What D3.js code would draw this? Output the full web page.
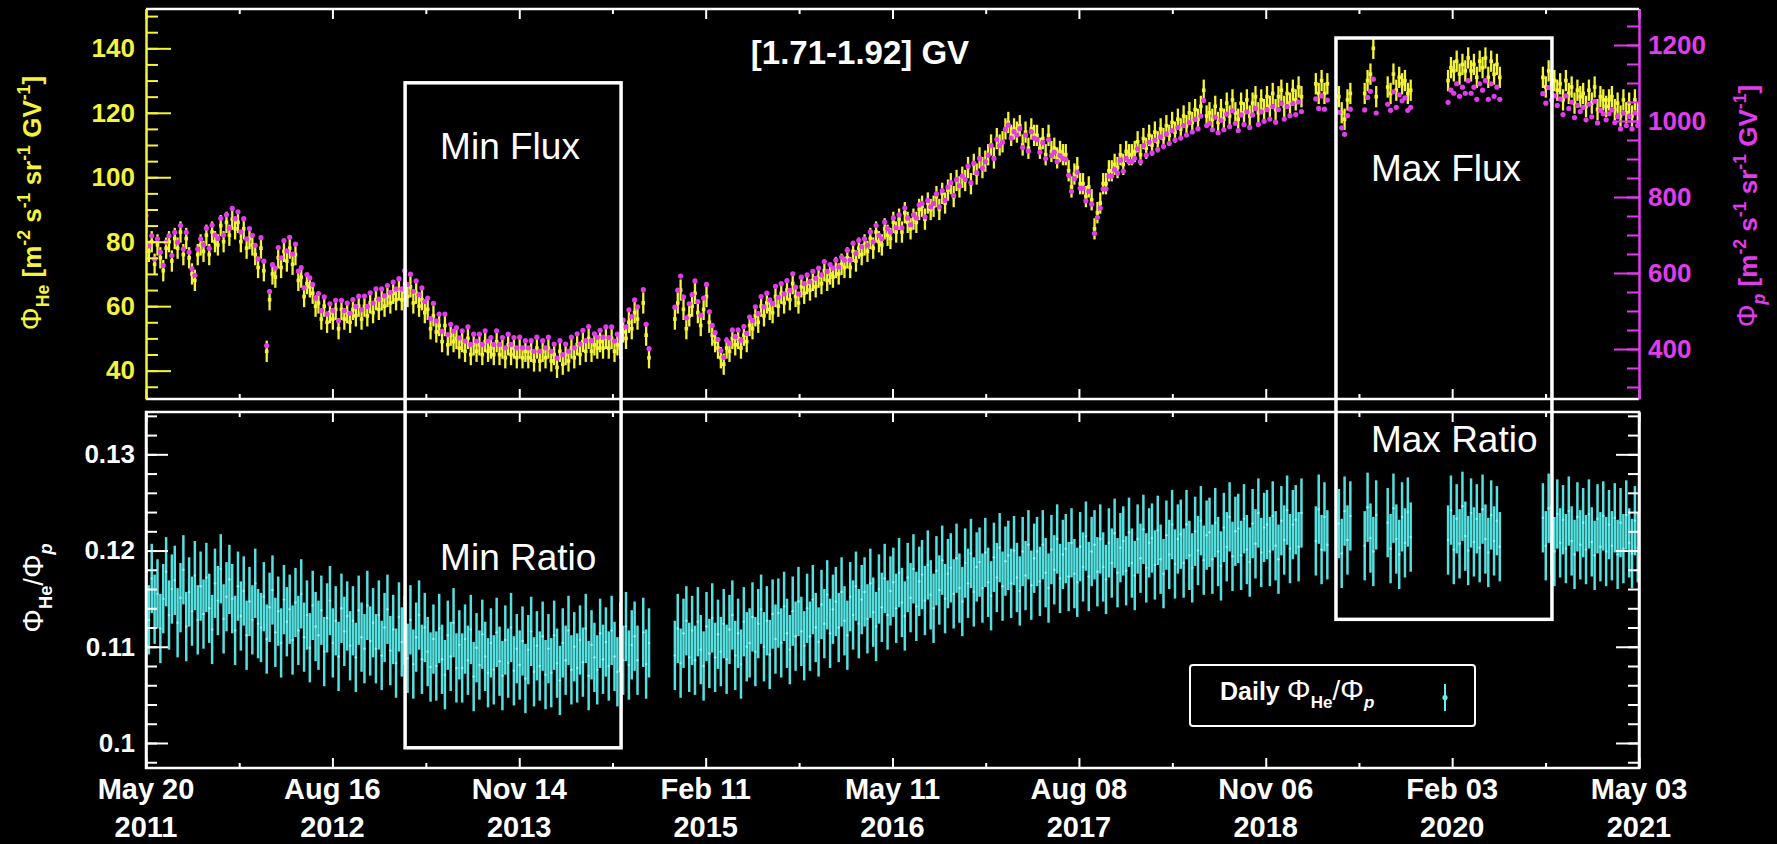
<!DOCTYPE html>
<html><head><meta charset="utf-8">
<script src="https://cdn.jsdelivr.net/npm/d3@7"></script>
<style>
html,body{margin:0;padding:0;background:#000;}
svg{display:block;}
text{font-family:"Liberation Sans",Arial,Helvetica,sans-serif;}
</style></head><body>
<svg id="chart" width="1777" height="844"></svg>
<script>
// ---------------- DATA ----------------
const startDate = "2011-05-20";
const stepDays = 7;           // one sample per week
// Helium flux [m^-2 s^-1 sr^-1 GV^-1], left axis
const heFlux = [
86,77,80,73,79,75,71,78,80,74,
81,78,83,76,81,75,70,68,76,79,
77,82,76,83,80,79,85,80,86,82,
87,84,86,80,84,78,81,79,76,72,
78,71,46,62,70,69,75,72,77,74,
78,73,76,68,69,63,67,66,64,60,
61,56,60,55,58,56,59,53,59,56,
58,55,59,57,60,56,60,57,61,58,
62,59,62,60,63,61,64,62,65,62,
67,63,66,61,64,60,62,58,59,53,
57,52,54,49,54,48,51,49,50,47,
49,46,50,45,48,46,48,45,49,46,
47,45,49,45,47,44,48,45,47,44,
47,44,46,44,46,43,47,43,46,44,
47,43,45,41,46,42,45,43,47,44,
48,45,49,46,50,46,48,47,49,47,
50,47,50,46,48,47,52,50,55,53,
58,56,null,61,51,44,null,null,null,null,
null,null,null,null,56,61,65,59,53,57,
60,64,58,54,59,63,55,51,49,47,
44,42,47,46,50,48,50,47,51,49,
54,53,57,55,60,57,61,59,58,63,
60,64,61,65,62,67,63,61,66,64,
67,65,68,66,69,67,71,68,70,69,
72,70,73,72,75,72,77,74,78,76,
79,77,81,78,83,80,79,84,82,81,
86,83,87,83,89,86,84,87,86,90,
91,87,92,90,91,94,90,95,92,96,
98,94,99,97,100,99,103,98,104,101,
106,103,105,107,110,106,112,110,111,115,
117,113,115,114,116,110,114,109,115,113,
113,109,112,107,113,108,109,106,108,107,
107,102,97,101,103,98,98,94,97,93,
84,89,92,98,98,102,102,104,103,107,
104,108,107,107,108,111,107,112,109,113,
110,114,111,115,112,116,113,117,114,118,
115,119,116,120,117,121,118,122,127,119,
120,118,122,117,121,118,123,119,124,120,
118,123,120,124,119,123,125,120,124,121,
125,122,126,121,125,127,122,126,123,127,
124,128,125,null,null,null,null,129,126,130,
126,129,null,null,null,125,120,118,124,126,
null,null,null,null,126,130,132,140,125,null,
null,null,128,126,132,127,131,129,130,126,
127,null,null,null,null,null,null,null,null,null,
null,null,null,130,134,133,136,132,135,133,
137,133,135,131,136,134,137,131,136,132,
135,131,null,null,null,null,null,null,null,null,
null,null,null,null,null,null,131,128,133,129,
130,127,129,124,130,126,128,123,127,125,
126,122,127,123,128,121,125,124,122,124,
125,121,123,119,124,120,123,119,124,120];
// Proton flux [m^-2 s^-1 sr^-1 GV^-1], right axis
const protonFlux = [
751,672,698,637,690,655,620,681,698,646,
707,681,725,663,707,655,611,594,663,690,
674,718,665,726,700,691,744,700,753,718,
770,743,761,708,743,690,717,699,673,637,
693,631,409,551,622,613,667,640,685,658,
694,650,676,605,614,561,596,587,570,534,
546,501,537,492,519,501,528,474,528,501,
521,494,530,512,539,503,539,512,548,521,
558,531,558,540,567,549,576,558,585,558,
606,570,597,552,579,543,561,525,534,480,
520,474,492,447,492,438,465,447,456,429,
448,421,458,412,439,421,439,412,448,421,
430,412,448,412,430,403,439,412,430,403,
431,403,422,403,422,394,431,394,422,403,
431,394,413,376,422,385,413,394,431,403,
440,413,449,422,459,422,440,431,449,431,
458,430,458,421,439,430,476,458,503,485,
529,511,null,556,465,401,null,null,null,null,
null,null,null,null,510,555,592,537,482,519,
543,579,525,489,534,570,498,462,443,425,
396,378,423,414,450,432,450,423,459,441,
484,475,511,493,538,511,547,529,520,565,
536,572,545,580,554,598,563,545,589,572,
595,577,604,586,613,595,630,604,622,613,
634,616,642,634,660,634,678,651,686,669,
690,673,708,682,725,699,690,734,717,708,
745,719,753,719,771,745,727,753,745,779,
783,748,791,774,783,808,774,817,791,826,
838,804,846,829,855,846,881,838,889,864,
901,876,893,910,935,901,952,935,944,978,
989,955,972,963,980,930,963,921,972,955,
951,918,943,901,951,909,918,893,909,901,
899,857,815,848,865,823,823,790,815,781,
704,746,771,821,821,855,855,872,863,897,
868,902,893,893,902,927,893,935,910,944,
916,950,925,958,933,966,941,975,950,983,
955,988,963,996,971,1004,979,1013,1054,988,
994,977,1010,969,1002,977,1018,985,1027,994,
975,1016,991,1024,983,1016,1033,991,1024,999,
1030,1005,1038,997,1030,1046,1005,1038,1014,1046,
1017,1050,1025,null,null,null,null,1058,1033,1066,
1031,1055,null,null,null,1023,982,965,1014,1031,
null,null,null,null,1029,1062,1078,1110,1021,null,
null,null,1044,1028,1077,1036,1069,1053,1061,1028,
1036,null,null,null,null,null,null,null,null,null,
null,null,null,1049,1081,1073,1098,1065,1089,1073,
1106,1073,1089,1057,1098,1081,1106,1057,1098,1065,
1089,1057,null,null,null,null,null,null,null,null,
null,null,null,null,null,null,1072,1047,1088,1055,
1066,1041,1058,1017,1066,1033,1050,1009,1041,1025,
1036,1003,1044,1011,1052,995,1028,1019,1003,1019,
1029,996,1012,979,1021,988,1012,979,1021,988];
// He / p flux ratio
const heProtonRatio = [
.1162,.1128,.1171,.1139,.1155,.1119,.1150,.1178,.1133,.1160,
.1169,.1125,.1151,.1180,.1121,.1157,.1137,.1174,.1128,.1163,
.1134,.1172,.1140,.1118,.1166,.1148,.1181,.1129,.1152,.1170,
.1150,.1117,.1163,.1132,.1158,.1112,.1147,.1128,.1166,.1124,
.1120,.1152,.1108,.1141,.1159,.1115,.1137,.1104,.1149,.1126,
.1139,.1107,.1146,.1117,.1155,.1110,.1133,.1099,.1143,.1121,
.1112,.1138,.1095,.1130,.1148,.1104,.1127,.1090,.1140,.1116,
.1132,.1101,.1127,.1089,.1138,.1110,.1098,.1143,.1106,.1125,
.1098,.1133,.1091,.1120,.1139,.1096,.1118,.1083,.1131,.1105,
.1117,.1088,.1128,.1082,.1110,.1133,.1087,.1120,.1095,.1079,
.1108,.1080,.1119,.1087,.1071,.1112,.1090,.1125,.1078,.1102,
.1078,.1108,.1086,.1118,.1069,.1099,.1081,.1113,.1090,.1073,
.1104,.1076,.1115,.1085,.1070,.1107,.1083,.1120,.1075,.1098,
.1081,.1106,.1067,.1097,.1116,.1074,.1101,.1080,.1111,.1071,
.1098,.1073,.1112,.1083,.1065,.1104,.1086,.1117,.1076,.1100,
.1078,.1107,.1084,.1119,.1070,.1102,.1089,.1076,.1114,.1087,
.1105,.1080,.1117,.1090,.1074,.1110,.1086,.1121,.1081,.1102,
.1111,.1086,null,.1115,.1082,.1104,null,null,null,null,
null,null,null,null,.1091,.1119,.1083,.1114,.1127,.1089,
.1117,.1086,.1126,.1097,.1080,.1121,.1093,.1130,.1089,.1113,
.1095,.1124,.1087,.1118,.1133,.1091,.1114,.1082,.1126,.1100,
.1104,.1131,.1095,.1124,.1139,.1100,.1127,.1092,.1134,.1108,
.1135,.1104,.1142,.1114,.1097,.1137,.1111,.1147,.1116,.1101,
.1140,.1111,.1149,.1120,.1105,.1144,.1124,.1154,.1114,.1139,
.1147,.1120,.1157,.1127,.1112,.1152,.1133,.1163,.1124,.1149,
.1157,.1129,.1166,.1136,.1121,.1160,.1141,.1171,.1133,.1158,
.1167,.1140,.1177,.1146,.1132,.1172,.1151,.1181,.1142,.1168,
.1175,.1148,.1185,.1154,.1140,.1179,.1159,.1190,.1150,.1176,
.1182,.1155,.1192,.1161,.1147,.1187,.1166,.1197,.1157,.1183,
.1188,.1161,.1198,.1167,.1153,.1193,.1172,.1203,.1163,.1189,
.1195,.1166,.1200,.1172,.1158,.1199,.1174,.1206,.1164,.1192,
.1199,.1168,.1206,.1177,.1161,.1201,.1180,.1212,.1171,.1196,
.1202,.1173,.1208,.1176,.1167,.1204,.1183,.1215,.1173,.1199,
.1206,.1178,.1212,.1183,.1170,.1208,.1187,.1218,.1177,.1203,
.1210,.1179,.1219,.1187,.1174,.1212,.1192,.1222,.1182,.1208,
.1213,.1185,.1221,.1191,.1176,.1216,.1196,.1227,.1186,.1212,
.1217,.1187,.1227,.1195,.1182,.1220,.1200,.1231,.1190,.1216,
.1219,.1191,.1229,.1199,.1184,.1224,.1204,.1235,.1194,.1220,
.1223,.1195,.1233,.1201,.1188,.1228,.1207,.1239,.1198,.1224,
.1227,.1199,.1236,.1205,.1191,.1231,.1211,.1242,.1202,.1227,
.1232,.1204,.1239,null,null,null,null,.1210,.1243,.1201,
.1235,.1206,null,null,null,.1228,.1197,.1241,.1211,.1236,
null,null,null,null,.1205,.1245,.1213,.1199,.1237,null,
null,null,.1229,.1202,.1244,.1212,.1196,.1235,.1208,.1240,
.1214,null,null,null,null,null,null,null,null,null,
null,null,null,.1211,.1242,.1201,.1233,.1207,.1246,.1215,
.1200,.1239,.1209,.1233,.1203,.1243,.1212,.1198,.1237,.1210,
.1231,.1204,null,null,null,null,null,null,null,null,
null,null,null,null,null,null,.1234,.1205,.1244,.1211,
.1199,.1238,.1208,.1232,.1202,.1241,.1210,.1196,.1235,.1206,
.1229,.1201,.1238,.1209,.1195,.1233,.1204,.1236,.1199,.1227,
.1205,.1234,.1196,.1229,.1202,.1237,.1208,.1197,.1231,.1203];
const heErr = 3.3;        // typical daily error bar (He units)
const ratioErr = 0.0036;  // typical daily error bar (ratio units)

// Axis ticks / labels
const xTickDates  = ["2011-05-20","2012-08-16","2013-11-14","2015-02-11","2016-05-11","2017-08-08","2018-11-06","2020-02-03","2021-05-03"];
const xTickLine1  = ["May 20","Aug 16","Nov 14","Feb 11","May 11","Aug 08","Nov 06","Feb 03","May 03"];
const xTickLine2  = ["2011","2012","2013","2015","2016","2017","2018","2020","2021"];
const heTicks     = [40,60,80,100,120,140];
const heMinorStep = 5;
const pTicks      = [400,600,800,1000,1200];
const pMinorStep  = 50;
const ratioTicks  = [0.10,0.11,0.12,0.13];
const ratioMinorStep = 0.002;
const heDomain    = [31.2,152.2];
const pDomain     = [268.4,1294.7];
const ratioDomain = [0.0974,0.1344];

// Annotation boxes (data coordinates)
const boxNames      = ["Min","Max"];
const boxStart      = ["2013-02-09","2019-04-26"];
const boxEnd        = ["2014-07-20","2020-10-03"];
const boxTopHe      = [129.3,143.2];
const boxBottomRatio= [0.0995,0.11285];
const boxFluxLabel  = ["Min Flux","Max Flux"];
const boxFluxLabelHe= [105.7,98.8];
const boxRatioLabel = ["Min Ratio","Max Ratio"];
const boxRatioLabelR= [0.11795,0.1302];

const titleText = "[1.71-1.92] GV";

// ---------------- LAYOUT / STYLE ----------------
const W = 1777, H = 844;
const L = 146, R = 1639, topT = 9, topB = 399, botT = 412, botB = 768;
const YEL = "#f4f43c", MAG = "#e03cee", CYAN = "#5cf2f2", WHITE = "#ffffff";
const FONT = '"Liberation Sans", Arial, Helvetica, sans-serif';

const svg = d3.select("#chart");
svg.append("rect").attr("width", W).attr("height", H).attr("fill", "#000");

const parse = d3.utcParse("%Y-%m-%d");
const t0 = parse(startDate);
const dateAt = i => d3.utcDay.offset(t0, i * stepDays);
const majorDates = xTickDates.map(parse);
const minorDates = d3.pairs(majorDates).map(([a, b]) => new Date((+a + +b) / 2));

const x = d3.scaleUtc().domain([majorDates[0], majorDates[majorDates.length - 1]]).range([L, R]);
const yHe = d3.scaleLinear().domain(heDomain).range([topB, topT]);
const yP = d3.scaleLinear().domain(pDomain).range([topB, topT]);
const yR = d3.scaleLinear().domain(ratioDomain).range([botB, botT]);

const defs = svg.append("defs");
defs.append("clipPath").attr("id", "clipTop").append("rect")
  .attr("x", L).attr("y", topT).attr("width", R - L).attr("height", topB - topT);
defs.append("clipPath").attr("id", "clipBot").append("rect")
  .attr("x", L).attr("y", botT).attr("width", R - L).attr("height", botB - botT);

const idx = d3.range(heFlux.length);

// ---- top panel data ----
const gTop = svg.append("g").attr("clip-path", "url(#clipTop)");
const heIdx = idx.filter(i => heFlux[i] != null);
gTop.append("g").selectAll("line").data(heIdx).join("line")
  .attr("x1", i => x(dateAt(i))).attr("x2", i => x(dateAt(i)))
  .attr("y1", i => yHe(heFlux[i] - heErr)).attr("y2", i => yHe(heFlux[i] + heErr))
  .attr("stroke", YEL).attr("stroke-width", 2.3);
gTop.append("g").selectAll("rect").data(heIdx).join("rect")
  .attr("x", i => x(dateAt(i)) - 1.8).attr("y", i => yHe(heFlux[i]) - 1.8)
  .attr("width", 3.6).attr("height", 3.6).attr("fill", YEL);
const pIdx = idx.filter(i => protonFlux[i] != null);
gTop.append("g").selectAll("circle").data(pIdx).join("circle")
  .attr("cx", i => x(dateAt(i))).attr("cy", i => yP(protonFlux[i]))
  .attr("r", 2.6).attr("fill", MAG);

// ---- bottom panel data ----
const gBot = svg.append("g").attr("clip-path", "url(#clipBot)");
const rIdx = idx.filter(i => heProtonRatio[i] != null);
gBot.append("g").selectAll("line").data(rIdx).join("line")
  .attr("x1", i => x(dateAt(i))).attr("x2", i => x(dateAt(i)))
  .attr("y1", i => yR(heProtonRatio[i] - ratioErr)).attr("y2", i => yR(heProtonRatio[i] + ratioErr))
  .attr("stroke", CYAN).attr("stroke-width", 2.5).attr("stroke-opacity", 0.92);
gBot.append("g").selectAll("circle").data(rIdx).join("circle")
  .attr("cx", i => x(dateAt(i))).attr("cy", i => yR(heProtonRatio[i]))
  .attr("r", 1.2).attr("fill", "#8ff8f8");

// ---- frames ----
svg.append("line").attr("x1", L).attr("x2", R).attr("y1", topT).attr("y2", topT).attr("stroke", WHITE).attr("stroke-width", 2.5);
svg.append("line").attr("x1", L).attr("x2", R).attr("y1", topB).attr("y2", topB).attr("stroke", WHITE).attr("stroke-width", 2.5);
svg.append("rect").attr("x", L).attr("y", botT).attr("width", R - L).attr("height", botB - botT)
  .attr("fill", "none").attr("stroke", WHITE).attr("stroke-width", 2.5);

// ---- x ticks (inward, on every horizontal edge) ----
function xEdge(y, top) {
  [[majorDates, 10], [minorDates, 5]].forEach(([vals, len]) => {
    const ax = (top ? d3.axisTop(x) : d3.axisBottom(x)).tickValues(vals).tickSize(-len).tickFormat("");
    const g = svg.append("g").attr("transform", `translate(0,${y})`).call(ax);
    g.select(".domain").remove();
    g.selectAll(".tick line").attr("stroke", WHITE).attr("stroke-width", 2);
  });
}
xEdge(topT, true); xEdge(topB, false); xEdge(botT, true); xEdge(botB, false);

// x tick labels (two lines)
const xl = svg.append("g").attr("font-family", FONT).attr("font-weight", "bold")
  .attr("font-size", 29).attr("fill", WHITE).attr("text-anchor", "middle");
xl.selectAll("text.l1").data(majorDates).join("text").attr("class", "l1")
  .attr("x", d => x(d)).attr("y", 799).text((d, i) => xTickLine1[i]);
xl.selectAll("text.l2").data(majorDates).join("text").attr("class", "l2")
  .attr("x", d => x(d)).attr("y", 837).text((d, i) => xTickLine2[i]);

// ---- y axes ----
function yAxis(scale, xpos, right, major, minor, majLen, minLen, color, withLabels, fmt, pad) {
  const mk = right ? d3.axisRight : d3.axisLeft;
  const gMin = svg.append("g").attr("transform", `translate(${xpos},0)`)
    .call(mk(scale).tickValues(minor).tickSize(-minLen).tickFormat("").tickSizeOuter(0));
  gMin.select(".domain").remove();
  gMin.selectAll(".tick line").attr("stroke", color).attr("stroke-width", 2);
  const ax = mk(scale).tickValues(major).tickSize(-majLen).tickSizeOuter(0).tickPadding(pad)
    .tickFormat(withLabels ? fmt : "");
  const g = svg.append("g").attr("transform", `translate(${xpos},0)`).call(ax);
  g.attr("font-family", FONT).attr("font-size", 26).attr("font-weight", "bold");
  g.select(".domain").attr("stroke", color).attr("stroke-width", 2.5);
  g.selectAll(".tick line").attr("stroke", color).attr("stroke-width", 2);
  g.selectAll(".tick text").attr("fill", color);
}
const heMinor = d3.range(Math.ceil(heDomain[0] / heMinorStep), Math.floor(heDomain[1] / heMinorStep) + 1).map(k => k * heMinorStep);
const pMinor = d3.range(Math.ceil(pDomain[0] / pMinorStep), Math.floor(pDomain[1] / pMinorStep) + 1).map(k => k * pMinorStep);
const rMinor = d3.range(Math.ceil(ratioDomain[0] / ratioMinorStep - 1e-9), Math.floor(ratioDomain[1] / ratioMinorStep + 1e-9) + 1).map(k => +(k * ratioMinorStep).toFixed(4));

yAxis(yHe, L, false, heTicks, heMinor, 25, 12, YEL, true, d3.format("d"), 11);
yAxis(yP, R, true, pTicks, pMinor, 25, 12, MAG, true, d3.format("d"), 9);
yAxis(yR, L, false, ratioTicks, rMinor, 22, 11, WHITE, true, d => String(+d.toFixed(2)), 11);
yAxis(yR, R, true, ratioTicks, rMinor, 23, 11, WHITE, false, null, 9);

// ---- rich text helper ----
function rich(textSel, parts, base) {
  let shift = 0;
  parts.forEach(p => {
    const target = p.sub ? base * 0.32 : p.sup ? -base * 0.42 : 0;
    const ts = textSel.append("tspan").text(p.t).attr("dy", target - shift);
    shift = target;
    ts.attr("font-size", (p.sub || p.sup) ? base * 0.68 : base * (p.big || 1));
    ts.attr("font-weight", p.normal ? "normal" : "bold");
    if (p.it) ts.attr("font-style", "italic");
  });
}
const unitParts = [
  { t: " [m" }, { t: "-2", sup: 1 }, { t: " s" }, { t: "-1", sup: 1 },
  { t: " sr" }, { t: "-1", sup: 1 }, { t: " GV" }, { t: "-1", sup: 1 }, { t: "]" }];

// left axis title
rich(svg.append("text").attr("transform", "translate(41,203) rotate(-90)")
  .attr("text-anchor", "middle").attr("fill", YEL).attr("font-family", FONT),
  [{ t: "Φ", normal: 1, big: 1.1 }, { t: "He", sub: 1 }].concat(unitParts), 26);
// right axis title
rich(svg.append("text").attr("transform", "translate(1757,206) rotate(-90)")
  .attr("text-anchor", "middle").attr("fill", MAG).attr("font-family", FONT),
  [{ t: "Φ", normal: 1, big: 1.1 }, { t: "p", sub: 1, it: 1 }].concat(unitParts), 26);
// ratio axis title
rich(svg.append("text").attr("transform", "translate(43,588) rotate(-90)")
  .attr("text-anchor", "middle").attr("fill", WHITE).attr("font-family", FONT),
  [{ t: "Φ", normal: 1, big: 1.1 }, { t: "He", sub: 1 }, { t: "/", normal: 1 }, { t: "Φ", normal: 1, big: 1.1 }, { t: "p", sub: 1, it: 1 }], 27);

// title
svg.append("text").attr("x", 860).attr("y", 64).attr("text-anchor", "middle")
  .attr("font-family", FONT).attr("font-weight", "bold").attr("font-size", 33)
  .attr("fill", WHITE).text(titleText);

// ---- annotation boxes ----
const gBox = svg.append("g");
boxNames.forEach((n, k) => {
  const x0 = x(parse(boxStart[k])), x1 = x(parse(boxEnd[k]));
  const y0 = yHe(boxTopHe[k]), y1 = yR(boxBottomRatio[k]);
  gBox.append("rect").attr("x", x0).attr("y", y0).attr("width", x1 - x0).attr("height", y1 - y0)
    .attr("fill", "none").attr("stroke", WHITE).attr("stroke-width", 3.5);
  gBox.append("text").attr("x", x0 + 35).attr("y", yHe(boxFluxLabelHe[k]))
    .attr("font-family", FONT).attr("font-size", 37).attr("fill", WHITE).text(boxFluxLabel[k]);
  gBox.append("text").attr("x", x0 + 35).attr("y", yR(boxRatioLabelR[k]))
    .attr("font-family", FONT).attr("font-size", 37).attr("fill", WHITE).text(boxRatioLabel[k]);
});

// ---- legend ----
const lg = svg.append("g");
lg.append("rect").attr("x", 1190).attr("y", 665).attr("width", 285).attr("height", 61).attr("rx", 3)
  .attr("fill", "#000").attr("stroke", WHITE).attr("stroke-width", 2);
rich(lg.append("text").attr("x", 1220).attr("y", 700).attr("fill", WHITE).attr("font-family", FONT),
  [{ t: "Daily " }, { t: "Φ", normal: 1, big: 1.2 }, { t: "He", sub: 1 }, { t: "/", normal: 1, big: 1.1 }, { t: "Φ", normal: 1, big: 1.2 }, { t: "p", sub: 1, it: 1 }], 25);
lg.append("line").attr("x1", 1445).attr("x2", 1445).attr("y1", 684).attr("y2", 711)
  .attr("stroke", CYAN).attr("stroke-width", 2);
lg.append("circle").attr("cx", 1445).attr("cy", 697.5).attr("r", 2.6).attr("fill", CYAN);
</script>
</body></html>
